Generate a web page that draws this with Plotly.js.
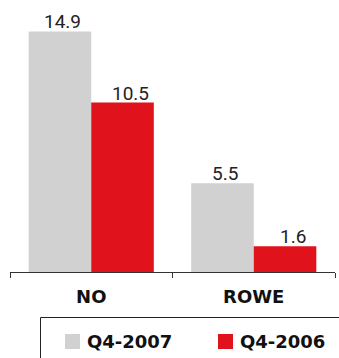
<!DOCTYPE html>
<html>
<head>
<meta charset="utf-8">
<script src="https://cdn.plot.ly/plotly-3.0.1.min.js"></script>
<style>
  html, body { margin: 0; padding: 0; background: #fff; }
  #chart { width: 339px; height: 358px; }
</style>
</head>
<body>
<div id="chart"></div>
<script>
// Categories and series
const categories = ['NO', 'ROWE'];
const seriesNames = ['Q4-2007', 'Q4-2006'];
const q42007 = [14.9, 5.5];
const q42006 = [10.5, 1.6];

const GRAY = '#d1d1d1';
const RED = '#e0131d';

// Plot area geometry in page pixels (used for the hand-built legend)
const W = 339, H = 358;
const M = { l: 10, r: 4, t: 0, b: 86 };
const plotW = W - M.l - M.r;
const plotH = H - M.t - M.b;
const px2x = px => (px - M.l) / plotW;
const py2y = py => (M.t + plotH - py) / plotH;

const traces = [
  { type: 'bar', name: seriesNames[0], x: categories, y: q42007,
    marker: { color: GRAY, line: { width: 0 } }, showlegend: false, hoverinfo: 'skip' },
  { type: 'bar', name: seriesNames[1], x: categories, y: q42006,
    marker: { color: RED, line: { width: 0 } }, showlegend: false, hoverinfo: 'skip' }
];

// Value labels above each bar
const barHalf = plotW / categories.length * (1 - 0.23) / 4;
const annotations = [];
[q42007, q42006].forEach((vals, s) => {
  vals.forEach((v, i) => {
    annotations.push({
      x: categories[i], y: v, xref: 'x', yref: 'y',
      text: v.toFixed(1), showarrow: false,
      xanchor: 'center', yanchor: 'bottom',
      xshift: (s === 0 ? -barHalf + 3 : barHalf + 8), yshift: -4,
      font: { family: 'Roboto, sans-serif', size: 19, color: '#222' }
    });
  });
});

// Legend: framed box with two swatches
const legendFont = { family: 'DejaVu Sans, sans-serif', size: 18, color: '#111', weight: 'bold' };
const shapes = [
  { type: 'rect', xref: 'paper', yref: 'paper',
    x0: px2x(40.5), x1: px2x(360), y0: py2y(317.5), y1: py2y(380),
    line: { color: '#222', width: 1 }, fillcolor: 'rgba(0,0,0,0)' },
  { type: 'rect', xref: 'paper', yref: 'paper',
    x0: px2x(65), x1: px2x(80), y0: py2y(334), y1: py2y(349),
    line: { width: 0 }, fillcolor: GRAY },
  { type: 'rect', xref: 'paper', yref: 'paper',
    x0: px2x(218), x1: px2x(233), y0: py2y(334), y1: py2y(349),
    line: { width: 0 }, fillcolor: RED }
];
annotations.push(
  { xref: 'paper', yref: 'paper', x: px2x(85), y: py2y(341.5), text: '<b>' + seriesNames[0] + '</b>',
    showarrow: false, xanchor: 'left', yanchor: 'middle', font: legendFont },
  { xref: 'paper', yref: 'paper', x: px2x(238), y: py2y(341.5), text: '<b>' + seriesNames[1] + '</b>',
    showarrow: false, xanchor: 'left', yanchor: 'middle', font: legendFont }
);

const layout = {
  width: W, height: H,
  margin: M,
  paper_bgcolor: '#fff', plot_bgcolor: '#fff',
  barmode: 'group', bargap: 0.23, bargroupgap: 0,
  showlegend: false,
  xaxis: {
    type: 'category',
    showline: true, linecolor: '#333', linewidth: 1,
    ticks: 'outside', tickson: 'boundaries', ticklen: 5, tickcolor: '#333', tickwidth: 1,
    ticklabelstandoff: 8,
    showgrid: false, zeroline: false,
    tickfont: { family: 'DejaVu Sans, sans-serif', size: 18, color: '#111', weight: 'bold' },
    fixedrange: true
  },
  yaxis: {
    range: [0, 16.85], visible: false, showgrid: false, zeroline: false, fixedrange: true
  },
  shapes: shapes,
  annotations: annotations
};

Plotly.newPlot('chart', traces, layout, { staticPlot: true, displayModeBar: false });
</script>
</body>
</html>
